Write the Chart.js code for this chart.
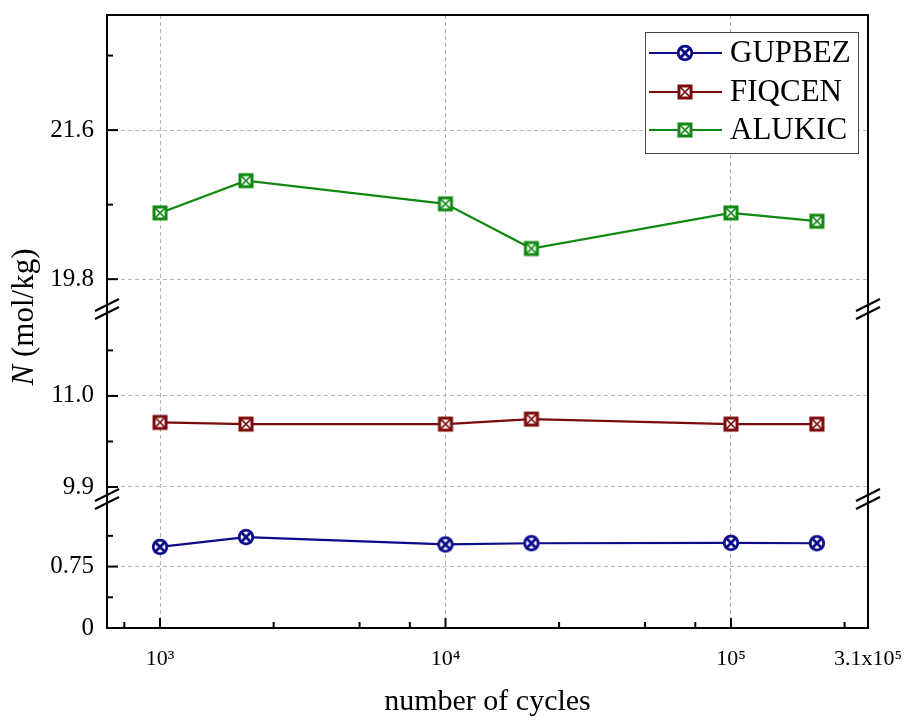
<!DOCTYPE html>
<html>
<head>
<meta charset="utf-8">
<script src="https://cdn.jsdelivr.net/npm/chart.js@4.4.1/dist/chart.umd.min.js"></script>
<style>
  html, body { margin: 0; padding: 0; background: #fff; }
  canvas { display: block; }
</style>
</head>
<body>
<canvas id="chart" width="912" height="720"></canvas>
<script>
// ---- data ----
const cycles = [1000, 2000, 10000, 20000, 100000, 200000];
const gupbez = [0.99, 1.11, 1.02, 1.035, 1.04, 1.035];
const fiqcen = [10.68, 10.66, 10.66, 10.72, 10.66, 10.66];
const alukic = [20.60, 20.99, 20.71, 20.17, 20.60, 20.50];

const seriesNames = ['GUPBEZ', 'FIQCEN', 'ALUKIC'];
const seriesColors = ['#0c0c8a', '#7c0a0a', '#118811'];

// x axis ticks (log); the last label sits on the right edge of the axis
const xMin = 652, xMax = 302000;
const xMajor = [1000, 10000, 100000];
const xMinor = [750, 2500, 5000, 7500, 25000, 50000, 75000, 250000];
const xLabels = { 1000: '10\u00B3', 10000: '10\u2074', 100000: '10\u2075' };
const xEndLabel = '3.1x10\u2075';

// broken y axis: three segments, bottom to top
const lowMajor = [0, 0.75];
const lowMinor = [0.375, 1.125];
const midMajor = [9.9, 11.0];
const midMinor = [10.45, 11.55];
const topMajor = [19.8, 21.6];
const topMinor = [20.7, 22.5];

const FONT = "'Liberation Serif', 'Times New Roman', serif";
const GRID = '#b4b4b4';

function markerCanvas(shape, color) {
    const c = document.createElement('canvas');
    c.width = 20; c.height = 20;
    const g = c.getContext('2d');
    g.strokeStyle = color;
    g.fillStyle = '#fff';
    if (shape === 'circle') {
        g.lineWidth = 2.8;
        g.beginPath(); g.arc(10, 10, 6.8, 0, Math.PI * 2); g.fill(); g.stroke();
        g.beginPath(); g.moveTo(4.3, 4.3); g.lineTo(15.7, 15.7); g.moveTo(15.7, 4.3); g.lineTo(4.3, 15.7); g.stroke();
    } else {
        g.lineWidth = 3;
        g.fillRect(4, 4, 12, 12); g.strokeRect(4, 4, 12, 12);
        g.lineWidth = 1.7;
        g.beginPath(); g.moveTo(5, 5); g.lineTo(15, 15); g.moveTo(15, 5); g.lineTo(5, 15); g.stroke();
    }
    return c;
}

// no extra layout padding from the axes, the frame is fixed by layout.padding
function noPad(axis) {
    axis.paddingTop = 0; axis.paddingBottom = 0;
    axis.paddingLeft = 0; axis.paddingRight = 0;
}

function segmentAxis(min, max, majors, minors, weight) {
    return {
        type: 'linear',
        position: 'left',
        stack: 'n',
        stackWeight: weight,
        min, max,
        afterBuildTicks: axis => {
            axis.ticks = [...majors, ...minors].sort((a, b) => a - b).map(v => ({ value: v }));
        },
        afterFit: axis => { axis.width = 107; noPad(axis); },
        ticks: {
            autoSkip: false,
            padding: 13,
            color: '#000',
            font: { family: FONT, size: 25 },
            callback: v => majors.includes(v) ? (v === 0 ? '0' : (v === 0.75 ? '0.75' : v.toFixed(1))) : null
        },
        grid: {
            drawTicks: false,
            lineWidth: 1,
            color: ctx => (ctx.tick && majors.includes(ctx.tick.value)) ? GRID : 'rgba(0,0,0,0)'
        },
        border: { display: false, dash: [4, 3] }
    };
}

const datasets = [gupbez, fiqcen, alukic].map((vals, i) => ({
    label: seriesNames[i],
    data: cycles.map((c, j) => ({ x: c, y: vals[j] })),
    yAxisID: ['yLow', 'yMid', 'yTop'][i],
    borderColor: seriesColors[i],
    backgroundColor: seriesColors[i],
    borderWidth: 2.2,
    pointStyle: markerCanvas(i === 0 ? 'circle' : 'square', seriesColors[i]),
    pointRadius: 8,
    tension: 0
}));

// frame, inward ticks and axis breaks
const framePlugin = {
    id: 'frame',
    afterDraw(chart) {
        const { ctx, chartArea: a, scales } = chart;
        ctx.save();
        ctx.strokeStyle = '#000';
        ctx.lineWidth = 2;
        ctx.strokeRect(a.left, a.top, a.right - a.left, a.bottom - a.top);

        const tick = (x1, y1, x2, y2) => { ctx.beginPath(); ctx.moveTo(x1, y1); ctx.lineTo(x2, y2); ctx.stroke(); };
        [['yLow', lowMajor, lowMinor], ['yMid', midMajor, midMinor], ['yTop', topMajor, topMinor]].forEach(([id, mj, mn]) => {
            const s = scales[id];
            mj.forEach(v => { const y = s.getPixelForValue(v); tick(a.left, y, a.left + 11, y); });
            mn.forEach(v => { const y = s.getPixelForValue(v); tick(a.left, y, a.left + 6, y); });
        });
        const sx = scales.x;
        xMajor.forEach(v => { const x = sx.getPixelForValue(v); tick(x, a.bottom, x, a.bottom - 10); });
        xMinor.forEach(v => { const x = sx.getPixelForValue(v); tick(x, a.bottom, x, a.bottom - 6); });

        // break marks
        [scales.yTop.bottom, scales.yMid.bottom].forEach(yb => {
            [a.left, a.right].forEach(x => {
                [-4, 4].forEach(d => tick(x - 12, yb + d + 6, x + 12, yb + d - 6));
            });
        });
        ctx.restore();
    }
};

const yTitlePlugin = {
    id: 'yTitle',
    afterDraw(chart) {
        const { ctx } = chart;
        ctx.save();
        ctx.translate(25, 317);
        ctx.rotate(-Math.PI / 2);
        ctx.fillStyle = '#000';
        ctx.textBaseline = 'middle';
        const it = 'italic 31px ' + FONT, rm = '31px ' + FONT;
        ctx.font = it; const wN = ctx.measureText('N').width;
        ctx.font = rm; const wR = ctx.measureText(' (mol/kg)').width;
        let x = -(wN + wR) / 2;
        ctx.font = it; ctx.textAlign = 'left'; ctx.fillText('N', x, 0);
        ctx.font = rm; ctx.fillText(' (mol/kg)', x + wN, 0);
        ctx.restore();
    }
};

const legendPlugin = {
    id: 'boxLegend',
    afterDraw(chart) {
        const { ctx } = chart;
        ctx.save();
        ctx.fillStyle = '#fff';
        ctx.fillRect(645, 32, 213, 121);
        ctx.strokeStyle = '#444';
        ctx.lineWidth = 1;
        ctx.strokeRect(645.5, 32.5, 213, 121);
        const rows = [53, 92, 130];
        chart.data.datasets.forEach((ds, i) => {
            const y = rows[i];
            ctx.strokeStyle = ds.borderColor;
            ctx.lineWidth = 2;
            ctx.beginPath(); ctx.moveTo(649, y); ctx.lineTo(722, y); ctx.stroke();
            ctx.drawImage(ds.pointStyle, 685 - 10, y - 10);
            ctx.fillStyle = '#000';
            ctx.font = '31px ' + FONT;
            ctx.textAlign = 'left';
            ctx.textBaseline = 'middle';
            ctx.fillText(ds.label, 730, y + 1);
        });
        ctx.restore();
    }
};

new Chart(document.getElementById('chart'), {
    type: 'line',
    data: { datasets },
    options: {
        responsive: false,
        animation: false,
        devicePixelRatio: 1,
        layout: { padding: { top: 15, right: 44, left: 0, bottom: 0 } },
        plugins: { legend: { display: false }, tooltip: { enabled: false } },
        scales: {
            x: {
                type: 'logarithmic',
                min: xMin, max: xMax,
                afterBuildTicks: axis => {
                    axis.ticks = [...xMajor, ...xMinor, xMax].sort((a, b) => a - b).map(v => ({ value: v }));
                },
                afterFit: axis => { axis.height = 92; noPad(axis); },
                ticks: {
                    autoSkip: false, maxRotation: 0, padding: 18,
                    color: '#000',
                    font: { family: FONT, size: 22 },
                    callback: v => v === xMax ? xEndLabel : (xLabels[v] || null)
                },
                grid: {
                    drawTicks: false,
                    color: ctx => (ctx.tick && xMajor.includes(ctx.tick.value)) ? GRID : 'rgba(0,0,0,0)'
                },
                border: { display: false, dash: [4, 3] },
                title: { display: true, text: 'number of cycles', color: '#000', font: { family: FONT, size: 30 }, padding: { top: 0, bottom: 0 } }
            },
            yLow: segmentAxis(0, 1.575, lowMajor, lowMinor, 129),
            yMid: segmentAxis(9.755, 12.05, midMajor, midMinor, 190),
            yTop: segmentAxis(19.44, 22.99, topMajor, topMinor, 294)
        }
    },
    plugins: [framePlugin, yTitlePlugin, legendPlugin]
});
</script>
</body>
</html>
